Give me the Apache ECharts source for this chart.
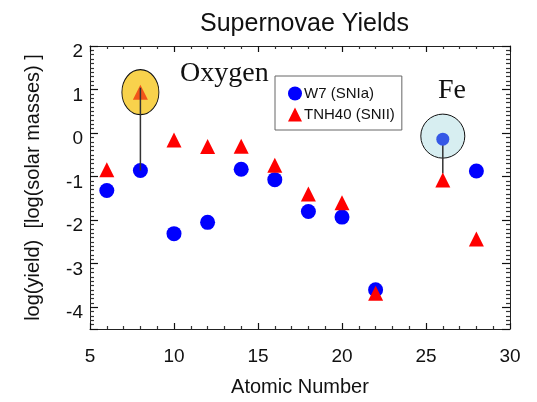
<!DOCTYPE html>
<html>
<head>
<meta charset="utf-8">
<script src="https://cdn.jsdelivr.net/npm/echarts@6/dist/echarts.min.js"></script>
<style>
  html, body { margin: 0; padding: 0; background: #fff; }
  #main { width: 537px; height: 402px; }
</style>
</head>
<body>
<div id="main"></div>
<script>
// atomic numbers of the elements plotted
var elements = [6, 8, 10, 12, 14, 16, 18, 20, 22, 26, 28];
// log yields
var w7Yields = [-1.32, -0.86, -2.31, -2.05, -0.83, -1.07, -1.80, -1.93, -3.60, -0.14, -0.87];
var tnhYields = [-0.84, 0.94, -0.16, -0.31, -0.30, -0.74, -1.40, -1.60, -3.68, -1.08, -2.43];
var oxygenIdx = 1;
var ironIdx = 9;

var sans = 'Liberation Sans, Arial, sans-serif';
var serif = 'Liberation Serif, Times New Roman, serif';
var ink = '#222';

function xAxisDef(pos, labels) {
    return {
        type: 'value', position: pos, min: 5, max: 30, interval: 5,
        axisLine: { onZero: false, lineStyle: { color: ink, width: 1 } },
        axisTick: { show: true, inside: true, length: 6, lineStyle: { color: '#111', width: 1.2 } },
        minorTick: { show: true, splitNumber: 5, length: 3, lineStyle: { color: '#333', width: 1.2 } },
        splitLine: { show: false },
        axisLabel: { show: labels, fontSize: 19, color: '#111', margin: 18, fontFamily: sans },
        name: labels ? 'Atomic Number' : '',
        nameLocation: 'middle', nameGap: 48,
        nameTextStyle: { fontSize: 20, color: '#111', fontFamily: sans }
    };
}

function yAxisDef(pos, labels) {
    return {
        type: 'value', position: pos, min: -4.5, max: 2, splitNumber: 6,
        axisLine: { onZero: false, lineStyle: { color: ink, width: 1 } },
        axisTick: { show: true, inside: true, length: 8, lineStyle: { color: '#111', width: 1.2 } },
        minorTick: { show: true, splitNumber: 10, length: 4, lineStyle: { color: '#333', width: 1.2 } },
        splitLine: { show: false },
        axisLabel: {
            show: labels, fontSize: 19, color: '#111', margin: 7, fontFamily: sans,
            showMinLabel: false, verticalAlign: 'top', lineHeight: 12
        },
        name: labels ? 'log(yield)  [log(solar masses) ]' : '',
        nameLocation: 'middle', nameGap: 47,
        nameTextStyle: { fontSize: 20, color: '#111', fontFamily: sans }
    };
}

var chart = echarts.init(document.getElementById('main'));

chart.setOption({
    backgroundColor: '#fff',
    animation: false,
    title: {
        text: 'Supernovae Yields', left: 195, top: 7,
        textStyle: { fontSize: 25, fontWeight: 'normal', color: '#111', fontFamily: sans }
    },
    grid: { left: 90, right: 27, top: 46, bottom: 70 },
    legend: {
        data: [
            { name: 'W7 (SNIa)', icon: 'circle' },
            { name: 'TNH40 (SNII)', icon: 'triangle' }
        ],
        orient: 'vertical', left: 275, top: 76,
        padding: [10, 7, 8, 13], itemGap: 6, itemWidth: 14, itemHeight: 14,
        borderColor: '#666', borderWidth: 1,
        textStyle: { fontSize: 15, color: '#111', fontFamily: sans, padding: [0, 0, 0, -3] }
    },
    xAxis: [xAxisDef('bottom', true), xAxisDef('top', false)],
    yAxis: [yAxisDef('left', true), yAxisDef('right', false)],
    graphic: [
        { type: 'text', left: 180, top: 60, style: { text: 'Oxygen', font: '28px ' + serif, fill: '#111' } },
        { type: 'text', left: 438, top: 77, style: { text: 'Fe', font: '28px ' + serif, fill: '#111' } }
    ],
    series: [
        {
            name: 'highlight', type: 'scatter', silent: true, z: 1,
            itemStyle: { borderColor: '#111', borderWidth: 1, opacity: 1 },
            data: [
                { value: [elements[oxygenIdx], tnhYields[oxygenIdx]], symbolSize: [37, 45], itemStyle: { color: '#f8d24c' } },
                { value: [elements[ironIdx], w7Yields[ironIdx] + 0.07], symbolSize: 44, itemStyle: { color: '#d7eef1' } }
            ]
        },
        {
            name: 'W7 (SNIa)', type: 'scatter', symbol: 'circle', symbolSize: 15, z: 3,
            itemStyle: { color: '#0000ff', opacity: 1 },
            data: elements.map(function (z, i) {
                var item = { value: [z, w7Yields[i]] };
                if (i === ironIdx) {
                    item.symbolSize = 13;
                    item.itemStyle = { color: '#3558e6' };
                }
                return item;
            })
        },
        {
            name: 'TNH40 (SNII)', type: 'scatter', symbol: 'triangle', symbolSize: 15, z: 3,
            itemStyle: { color: '#ff0000', opacity: 1 },
            data: elements.map(function (z, i) {
                var item = { value: [z, tnhYields[i]] };
                if (i === oxygenIdx) {
                    item.itemStyle = { color: '#f2551a' };
                }
                return item;
            })
        },
        {
            name: 'oxygen link', type: 'line', symbol: 'none', silent: true, z: 4,
            lineStyle: { color: '#333', width: 1.5 },
            data: [[elements[oxygenIdx], tnhYields[oxygenIdx] + 0.1], [elements[oxygenIdx], w7Yields[oxygenIdx]]]
        },
        {
            name: 'iron link', type: 'line', symbol: 'none', silent: true, z: 2,
            lineStyle: { color: '#333', width: 1.5 },
            data: [[elements[ironIdx], w7Yields[ironIdx]], [elements[ironIdx], tnhYields[ironIdx] + 0.15]]
        }
    ]
});
</script>
</body>
</html>
